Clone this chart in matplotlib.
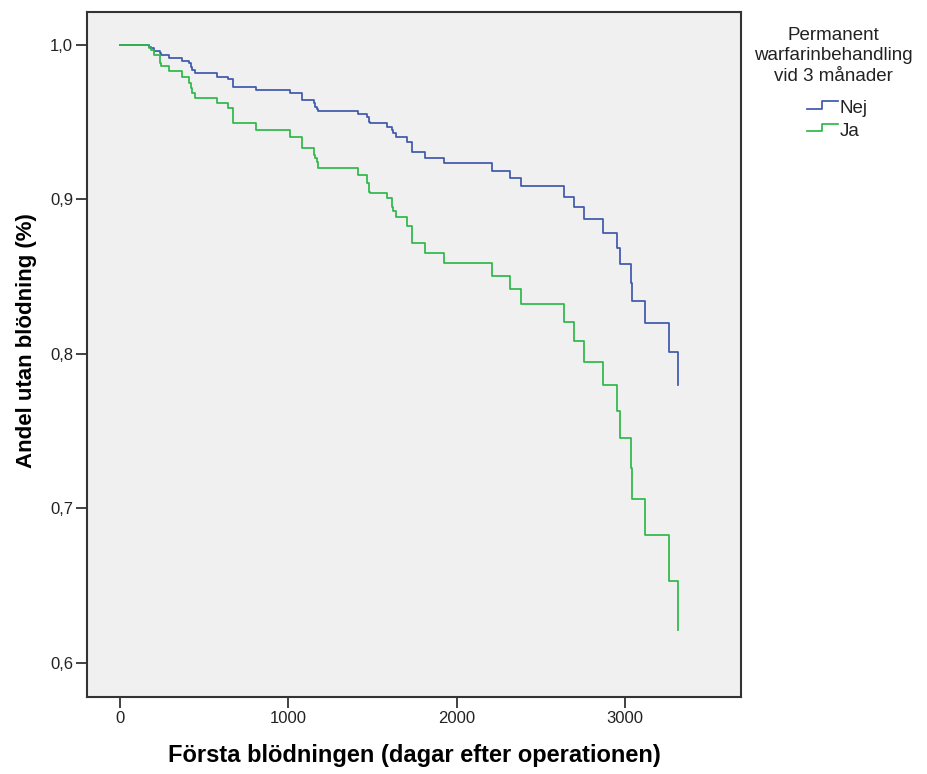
import matplotlib
matplotlib.use("Agg")
import matplotlib.pyplot as plt
from matplotlib.lines import Line2D
from matplotlib.legend_handler import HandlerBase
from matplotlib.ticker import FuncFormatter

plt.rcParams['font.family'] = ['Liberation Sans', 'DejaVu Sans']

# event times (days) - both groups share the same step positions
days = [0, 172, 184, 202, 235, 244, 291, 370, 412, 420, 430, 443, 578, 643, 670, 674,
        806, 1010, 1084, 1150, 1158, 1170, 1178, 1411, 1469, 1481, 1485, 1588, 1614,
        1624, 1640, 1703, 1732, 1809, 1925, 2208, 2317, 2385, 2638, 2697, 2756, 2871,
        2950, 2970, 3033, 3040, 3119, 3261, 3312]

# survival, "Nej" (no permanent warfarin)
surv_nej = [1.0, 0.9989, 0.9979, 0.9963, 0.9946, 0.9935, 0.9919, 0.9898, 0.9881, 0.9859,
            0.9838, 0.9821, 0.9795, 0.9778, 0.9756, 0.9730, 0.9709, 0.9689, 0.9644, 0.9622,
            0.9600, 0.9587, 0.9574, 0.9553, 0.9536, 0.9503, 0.9493, 0.9471, 0.9449, 0.9428,
            0.9406, 0.9374, 0.9309, 0.9266, 0.9238, 0.9187, 0.9137, 0.9084, 0.9018, 0.8949,
            0.8871, 0.8780, 0.8683, 0.8582, 0.8457, 0.8342, 0.8198, 0.8010, 0.7798]

# survival, "Ja" (permanent warfarin)
surv_ja = [1.0, 0.9979, 0.9968, 0.9935, 0.9881, 0.9864, 0.9834, 0.9795, 0.9752, 0.9720,
           0.9687, 0.9659, 0.9622, 0.9590, 0.9547, 0.9493, 0.9449, 0.9406, 0.9331, 0.9288,
           0.9266, 0.9244, 0.9201, 0.9158, 0.9104, 0.9050, 0.9041, 0.9007, 0.8953, 0.8925,
           0.8888, 0.8830, 0.8716, 0.8655, 0.8590, 0.8504, 0.8418, 0.8323, 0.8204, 0.8081,
           0.7949, 0.7798, 0.7631, 0.7457, 0.7258, 0.7060, 0.6826, 0.6528, 0.6211]

group_labels = ["Nej", "Ja"]
legend_title = "Permanent\nwarfarinbehandling\nvid 3 månader"
x_ticks = [0, 1000, 2000, 3000]
y_ticks = [0.6, 0.7, 0.8, 0.9, 1.0]

col_nej = "#3e58ac"
col_ja = "#2eb848"


class StepHandler(HandlerBase):
    """legend handle drawn as a little step, like SPSS does"""
    def create_artists(self, legend, orig_handle, xdescent, ydescent,
                       width, height, fontsize, trans):
        xs = [-xdescent, -xdescent + width * 0.48, -xdescent + width * 0.48, -xdescent + width]
        lo = -ydescent + height * 0.35
        hi = -ydescent + height * 0.92
        ys = [lo, lo, hi, hi]
        ln = Line2D(xs, ys, color=orig_handle.get_color(), lw=orig_handle.get_linewidth(),
                    transform=trans)
        return [ln]


fig = plt.figure(figsize=(9.28, 7.74), dpi=100)
ax = fig.add_axes([87 / 928, 77 / 774, 654 / 928, 685 / 774])
ax.set_facecolor("#f0f0f0")

l1, = ax.plot(days, surv_nej, drawstyle="steps-post", color=col_nej, lw=1.25)
l2, = ax.plot(days, surv_ja, drawstyle="steps-post", color=col_ja, lw=1.25)

ax.set_xlim(-196, 3689)
ax.set_ylim(0.5777, 1.0214)
ax.set_xticks(x_ticks)
ax.set_yticks(y_ticks)
ax.yaxis.set_major_formatter(FuncFormatter(lambda v, p: ("%.1f" % v).replace(".", ",")))
ax.tick_params(direction="out", length=8, width=1.3, color="#333333",
               labelsize=12, labelcolor="#222222", pad=2)
for s in ax.spines.values():
    s.set_color("#333333")
    s.set_linewidth(1.5)

ax.set_xlabel("Första blödningen (dagar efter operationen)", fontsize=17,
              fontweight="bold", labelpad=13)
ax.set_ylabel("Andel utan blödning (%)", fontsize=16, fontweight="bold")
ax.yaxis.set_label_coords(-0.076, 0.52)

# legend title as its own text, entries below it
fig.text(833 / 928, 1 - 56 / 774, legend_title, ha="center", va="center",
         fontsize=13.5, color="#222222", linespacing=1.26)
leg = fig.legend([l1, l2], group_labels, loc="center",
                 bbox_to_anchor=(837 / 928, 1 - 120 / 774), frameon=False,
                 fontsize=13.5, handlelength=1.7, labelcolor="#222222",
                 handletextpad=0.05, labelspacing=0.27,
                 handler_map={Line2D: StepHandler()})

fig.savefig("out.png", dpi=100)
